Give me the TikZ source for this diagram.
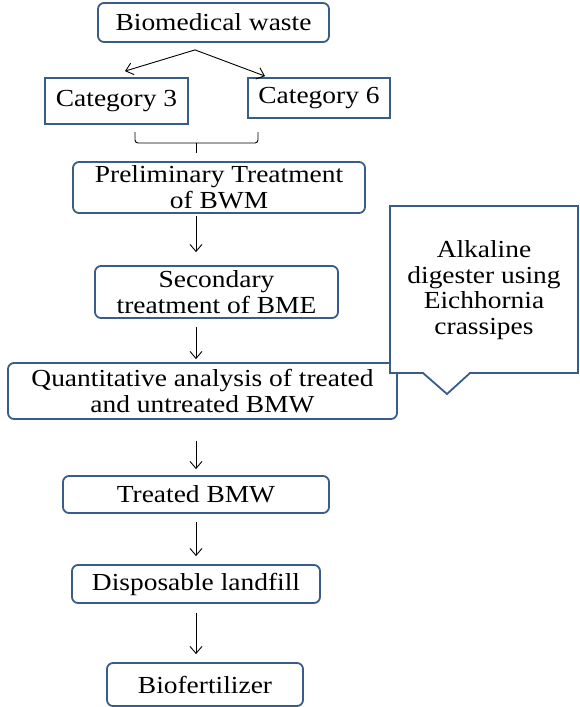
\documentclass[tikz,border=0pt]{standalone}
\usepackage{fontspec}
\setmainfont{Liberation Serif}[FakeStretch=1.12]
\usetikzlibrary{arrows.meta}
\definecolor{boxblue}{RGB}{56,93,138}

\begin{document}
\begin{tikzpicture}[x=1pt,y=-1pt,
  box/.style={draw=boxblue,line width=1.8pt,rounded corners=6pt,inner sep=0pt,align=center,
    font=\fontsize{24.5}{26}\selectfont},
  catbox/.style={box,rounded corners=0pt},
  arr/.style={-{Straight Barb[length=7pt,width=12pt]},line width=0.9pt}]

\useasboundingbox (0,0) rectangle (580,707);

\node[box,minimum width=231,minimum height=39] (waste) at (213.5,22.5) {Biomedical waste};
\node[catbox,minimum width=143,minimum height=46] (cat3) at (116.5,101) {Category 3};
\node[catbox,minimum width=142,minimum height=40] (cat6) at (319,98) {Category 6};

\node[box,minimum width=292,minimum height=51] (prelim) at (219,187.5) {Preliminary Treatment\\of BWM};
\node[box,minimum width=243,minimum height=52] (second) at (216.5,292) {Secondary\\treatment of BME};
\node[box,minimum width=389,minimum height=56] (quant) at (202.5,391) {Quantitative analysis of treated\\and untreated BMW};
\node[box,minimum width=266,minimum height=37] (treated) at (196,494.5) {Treated BMW};
\node[box,minimum width=248,minimum height=38] (landfill) at (196,584) {Disposable landfill};
\node[box,minimum width=196,minimum height=43] (bio) at (205,684.5) {Biofertilizer};

\draw[draw=boxblue,line width=1.8pt,fill=white] (390,206) -- (578,206) -- (578,373) -- (470,373)
  -- (447,394) -- (423,373) -- (390,373) -- cycle;
\node[align=center,font=\fontsize{24.5}{25.7}\selectfont] (digest) at (484,290)
  {Alkaline\\digester using\\Eichhornia\\crassipes};

\coordinate (split) at ([shift={(-18.5,7)}]waste.south);
\draw[arr] (split) -- ([shift={(8.5,-6)}]cat3.north);
\draw[arr] (split) -- ([shift={(-54,-1)}]cat6.north);

\draw[line width=0.9pt,rounded corners=3pt] (135,132) -- (135,143) -- (258,143) -- (258,132);
\draw[line width=0.9pt] (196,143) -- (196,153);

\coordinate (axis) at (196,0);
\draw[arr,shorten <=2pt,shorten >=13pt] (prelim.south -| axis) -- (second.north -| axis);
\draw[arr,shorten <=8pt,shorten >=3pt] (second.south -| axis) -- (quant.north -| axis);
\draw[arr,shorten <=21pt,shorten >=6pt] (quant.south -| axis) -- (treated.north -| axis);
\draw[arr,shorten <=8pt,shorten >=8pt] (treated.south -| axis) -- (landfill.north -| axis);
\draw[arr,shorten <=9pt,shorten >=8pt] (landfill.south -| axis) -- (bio.north -| axis);
\end{tikzpicture}
\end{document}
